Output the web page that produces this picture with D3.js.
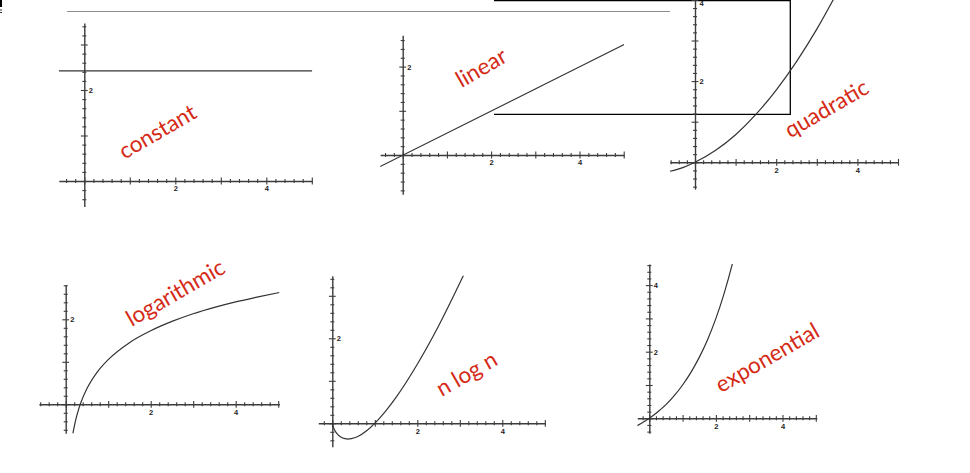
<!DOCTYPE html>
<html><head><meta charset="utf-8">
<script src="https://cdn.jsdelivr.net/npm/d3@7"></script>
<style>html,body{margin:0;padding:0;background:#fff;overflow:hidden;} svg{display:block;}</style>
</head><body>
<svg id="chart" width="970" height="473"></svg>
<script>
// ---------- data ----------
const curveNames = ["constant", "linear", "quadratic", "logarithmic", "n log n", "exponential"];

const constantX = [-0.56, 5.01];
const constantY = [2.42, 2.42];

const linearX = [-0.51, 5.01];
const linearY = [-0.26, 2.5];

const quadraticX = [-0.62, -0.3, 0, 0.5, 1, 1.5, 2, 2.5, 3, 3.5];
const quadraticY = [-0.22, -0.13, 0, 0.29, 0.68, 1.18, 1.78, 2.48, 3.28, 4.18];

const logarithmicX = [0.165, 0.18, 0.2, 0.25, 0.3, 0.353, 0.5, 0.75, 1, 1.5, 2, 2.5, 3, 3.5, 4, 4.5, 5.03];
const logarithmicY = [-0.72, -0.63, -0.53, -0.31, -0.13, 0.03, 0.37, 0.77, 1.05, 1.45, 1.73, 1.95, 2.13, 2.28, 2.41, 2.52, 2.63];

const nlognX = [0, 0.02, 0.05, 0.1, 0.2, 0.3, 0.368, 0.45, 0.6, 0.8, 1, 1.25, 1.5, 2, 2.5, 3, 3.1];
const nlognY = [0, -0.08, -0.15, -0.23, -0.32, -0.36, -0.37, -0.36, -0.31, -0.18, 0, 0.28, 0.61, 1.39, 2.29, 3.30, 3.51];

const exponentialX = [-0.36, 0, 0.25, 0.5, 0.75, 1, 1.25, 1.5, 1.75, 2, 2.25, 2.5, 2.6];
const exponentialY = [-0.22, 0, 0.19, 0.41, 0.68, 1.0, 1.38, 1.83, 2.36, 3.0, 3.76, 4.66, 5.06];

const xTickLabels = [2, 4];
const yTickLabelsLow = [2];
const yTickLabelsHigh = [2, 4];

// ---------- layout ----------
const panels = [
  {name: curveNames[0], xs: constantX, ys: constantY, yLabels: yTickLabelsLow,
   ox: 84.3, oy: 181, unit: 45.5, xd: [-0.56, 5.01], yd: [-0.56, 3.47], txt: [1.60, 1.10]},
  {name: curveNames[1], xs: linearX, ys: linearY, yLabels: yTickLabelsLow,
   ox: 402.7, oy: 155, unit: 44.2, xd: [-0.51, 5.01], yd: [-0.89, 2.71], txt: [1.77, 1.99]},
  {name: curveNames[2], xs: quadraticX, ys: quadraticY, yLabels: yTickLabelsHigh,
   ox: 695, oy: 162.3, unit: 40.6, xd: [-0.62, 5.0], yd: [-0.66, 4.3], txt: [3.23, 1.34]},
  {name: curveNames[3], xs: logarithmicX, ys: logarithmicY, yLabels: yTickLabelsLow,
   ox: 65.7, oy: 404.3, unit: 42.5, xd: [-0.63, 5.03], yd: [-0.68, 2.82], txt: [2.57, 2.64]},
  {name: curveNames[4], xs: nlognX, ys: nlognY, yLabels: yTickLabelsLow,
   ox: 332.3, oy: 423.3, unit: 42.5, xd: [-0.33, 5.01], yd: [-0.55, 3.47], txt: [3.15, 1.18]},
  {name: curveNames[5], xs: exponentialX, ys: exponentialY, yLabels: yTickLabelsHigh,
   ox: 649.3, oy: 418.3, unit: 33.3, xd: [-0.36, 5.03], yd: [-0.45, 4.63], txt: [3.53, 1.84]}
];

const svg = d3.select("#chart");
const axisColor = "#3c3c3c";
const curveColor = "#333";
const labelColor = "#d42a16";

// stray decorations of the composite picture
svg.append("rect").attr("x", 0).attr("y", 0).attr("width", 2).attr("height", 7).attr("fill", "#000");
svg.append("rect").attr("x", 0).attr("y", 9.5).attr("width", 2).attr("height", 1).attr("fill", "#333");
svg.append("rect").attr("x", 0).attr("y", 12).attr("width", 2).attr("height", 1).attr("fill", "#333");
svg.append("line").attr("x1", 67).attr("x2", 670).attr("y1", 11.5).attr("y2", 11.5)
  .attr("stroke", "#8e8e8e").attr("stroke-width", 1.2);
svg.append("path").attr("d", "M494,0.7 H790.3 V114.3 H494")
  .attr("fill", "none").attr("stroke", "#000").attr("stroke-width", 1.3);

panels.forEach((p, i) => {
  const x = d3.scaleLinear().domain(p.xd).range([p.ox + p.xd[0] * p.unit, p.ox + p.xd[1] * p.unit]);
  const y = d3.scaleLinear().domain(p.yd).range([p.oy - p.yd[0] * p.unit, p.oy - p.yd[1] * p.unit]);
  const g = svg.append("g");

  const step = 0.2;
  const xTicks = d3.range(Math.ceil(p.xd[0] / step - 1e-6), Math.floor(p.xd[1] / step + 1e-6) + 1).map(k => +(k * step).toFixed(2));
  const yTicks = d3.range(Math.ceil(p.yd[0] / step - 1e-6), Math.floor(p.yd[1] / step + 1e-6) + 1).map(k => +(k * step).toFixed(2));
  const isMajor = d => Math.abs(d - Math.round(d)) < 1e-6;

  // x axis
  const gx = g.append("g").attr("transform", `translate(0,${y(0)})`)
    .call(d3.axisBottom(x).tickValues(xTicks).tickSizeOuter(0)
      .tickFormat(d => xTickLabels.includes(d) ? String(d) : ""));
  gx.select(".domain").attr("stroke", axisColor).attr("stroke-width", 1.4);
  gx.selectAll(".tick line").attr("stroke", axisColor).attr("stroke-width", 1.1)
    .attr("y1", d => isMajor(d) ? -3.4 : -2).attr("y2", d => isMajor(d) ? 3.4 : 2);
  gx.selectAll(".tick text").attr("y", 5).attr("dy", "0.71em")
    .attr("font-family", "Liberation Sans, Arial, sans-serif").attr("font-size", 7.5)
    .attr("font-weight", "bold").attr("fill", "#222");

  // y axis
  const gy = g.append("g").attr("transform", `translate(${x(0)},0)`)
    .call(d3.axisLeft(y).tickValues(yTicks).tickSizeOuter(0)
      .tickFormat(d => p.yLabels.includes(d) ? String(d) : ""));
  gy.select(".domain").attr("stroke", axisColor).attr("stroke-width", 1.4);
  gy.selectAll(".tick line").attr("stroke", axisColor).attr("stroke-width", 1.1)
    .attr("x1", d => isMajor(d) ? -3.4 : -2).attr("x2", d => isMajor(d) ? 3.4 : 2);
  gy.selectAll(".tick text").attr("x", 4.5).attr("text-anchor", "start")
    .attr("dy", function(d) { return y(d) < 4 ? "0.75em" : "0.35em"; })
    .attr("font-family", "Liberation Sans, Arial, sans-serif").attr("font-size", 7.5)
    .attr("font-weight", "bold").attr("fill", "#222");

  // clip region = axis extents
  const clipId = "clip" + i;
  svg.append("clipPath").attr("id", clipId).append("rect")
    .attr("x", x(p.xd[0])).attr("y", y(p.yd[1]))
    .attr("width", x(p.xd[1]) - x(p.xd[0])).attr("height", y(p.yd[0]) - y(p.yd[1]));

  const pts = p.xs.map((v, k) => [v, p.ys[k]]);
  const line = d3.line().x(d => x(d[0])).y(d => y(d[1])).curve(d3.curveMonotoneX);
  g.append("path").datum(pts).attr("d", line).attr("clip-path", `url(#${clipId})`)
    .attr("fill", "none").attr("stroke", curveColor).attr("stroke-width", 1.2);

  g.append("text")
    .attr("transform", `translate(${x(p.txt[0])},${y(p.txt[1])}) rotate(-30)`)
    .attr("text-anchor", "middle").attr("dominant-baseline", "central")
    .attr("font-family", "Lato, sans-serif").attr("font-size", 22.5)
    .attr("fill", labelColor).text(p.name);
});
</script>
</body></html>
